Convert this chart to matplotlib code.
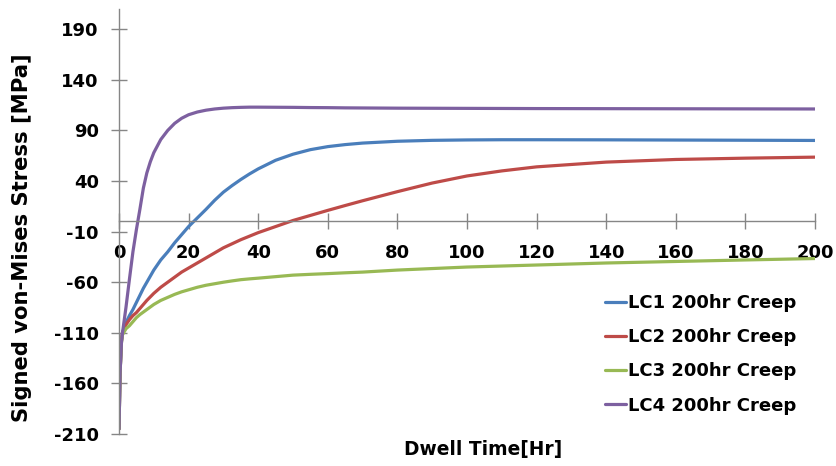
import numpy as np
import matplotlib
matplotlib.use('Agg')
import matplotlib.pyplot as plt

# dwell time [hr]
x = [0, 0.3, 0.7, 1, 2, 3, 4, 5, 6, 7, 8, 9, 10, 12, 14, 16, 18, 20, 22.5, 25, 27.5, 30, 32.5, 35,
     37.5, 40, 45, 50, 55, 60, 65, 70, 80, 90, 100, 110, 120, 140, 160, 180, 200]

# signed von-Mises stress [MPa]
lc1 = [-205, -150, -118, -110, -100, -93, -87, -80, -73, -66, -60, -54, -48, -38, -30, -21, -13, -5,
       3.5, 12, 21, 29, 35.5, 41.5, 47, 52, 60.5, 66.5, 71, 74, 76, 77.5, 79.3, 80.2, 80.6, 80.8,
       80.8, 80.7, 80.5, 80.3, 80.1]
lc2 = [-205, -150, -118, -110, -102, -97, -93, -90, -86, -82, -78, -74.5, -71, -65, -60, -55, -50, -46,
       -41, -36, -31, -26, -22, -18, -14.5, -11, -5, 1, 6, 11, 15.8, 20.5, 29.5, 38, 45, 50, 54,
       58.7, 61.3, 62.6, 63.6]
lc3 = [-205, -150, -120, -112, -106, -103, -99, -95, -92, -89.5, -87, -84.5, -82, -78, -75, -72, -69.5, -67.5,
       -65, -63, -61.5, -60, -58.7, -57.5, -56.7, -56, -54.5, -53, -52.2, -51.5, -50.7, -50, -48, -46.5,
       -45, -44, -43, -41, -39.5, -38, -36.6]
lc4 = [-205, -150, -120, -110, -85, -57, -30, -8, 12, 33, 48, 59, 68, 81, 90, 97, 102, 105.5,
       108.2, 110, 111.2, 112, 112.5, 112.8, 113, 113, 112.9, 112.8, 112.6, 112.5, 112.3, 112.2, 112,
       111.9, 111.8, 111.7, 111.6, 111.5, 111.4, 111.3, 111.2]

series = [('LC1 200hr Creep', lc1, '#4A7EBB'),
          ('LC2 200hr Creep', lc2, '#BE4B48'),
          ('LC3 200hr Creep', lc3, '#98B954'),
          ('LC4 200hr Creep', lc4, '#7D60A0')]

xticks = list(range(0, 201, 20))
yticks = list(range(-210, 191, 50))

plt.rcParams['font.family'] = 'DejaVu Sans'
plt.rcParams['font.weight'] = 'bold'
plt.rcParams['axes.unicode_minus'] = False
fs = 13.0

fig = plt.figure(figsize=(8.37, 4.66), dpi=100)
ax = fig.add_axes([119/837, 1 - 434/466, (815 - 119)/837, (434 - 9)/466])

for name, vals, col in series:
    ax.plot(x, vals, color=col, linewidth=2.3, label=name, solid_capstyle='round')

ax.set_xlim(0, 200)
ax.set_ylim(-210, 210)
ax.set_xticks(xticks)
ax.set_yticks(yticks)

gray = '#868686'
ax.spines['left'].set_position(('data', 0))
ax.spines['bottom'].set_position(('data', 0))
ax.spines['top'].set_visible(False)
ax.spines['right'].set_visible(False)
for s in ('left', 'bottom'):
    ax.spines[s].set_color(gray)
    ax.spines[s].set_linewidth(1.0)

ax.tick_params(axis='both', direction='inout', length=11, width=1.0, color=gray,
               labelsize=fs, labelcolor='black')
ax.tick_params(axis='y', pad=9)
ax.tick_params(axis='x', pad=11)
for lab in ax.get_xticklabels() + ax.get_yticklabels():
    lab.set_fontweight('bold')

fig.text(483/837, 1 - 450/466, 'Dwell Time[Hr]', ha='center', va='center',
         fontsize=13.4, fontweight='bold')
fig.text(22/837, 1 - 238/466, 'Signed von-Mises Stress [MPa]', ha='center', va='center',
         rotation=90, fontsize=15.2, fontweight='bold')

leg = ax.legend(loc='upper left', bbox_to_anchor=(605/837, 1 - 294/466),
                bbox_transform=fig.transFigure, frameon=False, fontsize=fs,
                handlelength=1.15, handletextpad=0.15, labelspacing=0.9,
                borderpad=0, borderaxespad=0)
for t in leg.get_texts():
    t.set_fontweight('bold')

plt.savefig('out.png', dpi=100)
plt.clf()
